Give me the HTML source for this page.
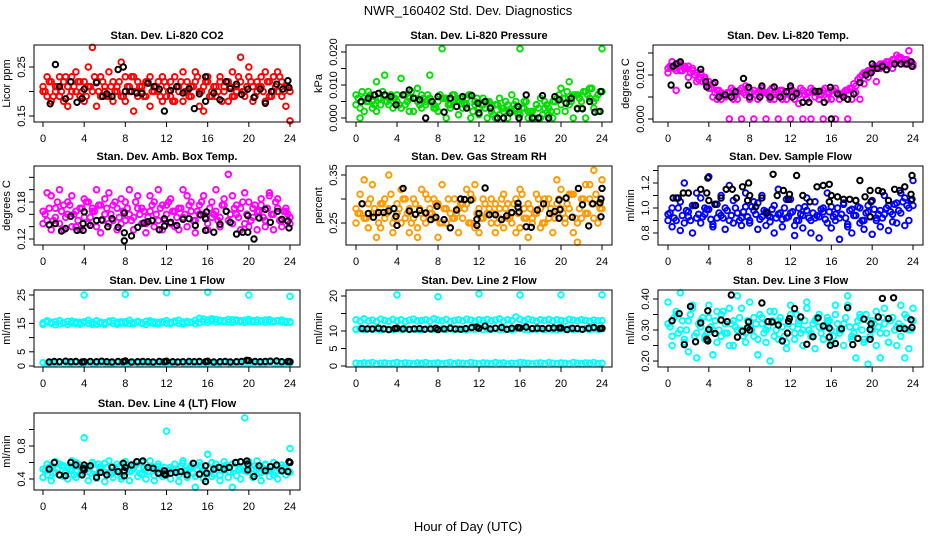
<!DOCTYPE html>
<html><head><meta charset="utf-8"><title>NWR_160402 Std. Dev. Diagnostics</title>
<style>
html,body{margin:0;padding:0;background:#fff;}
svg{display:block;font-family:"Liberation Sans",Arial,sans-serif;}
</style></head>
<body>
<svg id="chart" width="936" height="540" viewBox="0 0 936 540" xmlns="http://www.w3.org/2000/svg">
<rect x="0" y="0" width="936" height="540" fill="#fff"/>
<text x="468" y="15" text-anchor="middle" font-size="13">NWR_160402 Std. Dev. Diagnostics</text>
<text x="468" y="531" text-anchor="middle" font-size="13">Hour of Day (UTC)</text>
</svg>
<script>
const hours = [0,0.4,0.8,1.2,1.6,2,2.4,2.8,3.2,3.6,4,4.4,4.8,5.2,5.6,6,6.4,6.8,7.2,7.6,8,8.4,8.8,9.2,9.6,10,10.4,10.8,11.2,11.6,12,12.4,12.8,13.2,13.6,14,14.4,14.8,15.2,15.6,16,16.4,16.8,17.2,17.6,18,18.4,18.8,19.2,19.6,20,20.4,20.8,21.2,21.6,22,22.4,22.8,23.2,23.6,24];
const hoursHalf = [0.2,0.6,1,1.4,1.8,2.2,2.6,3,3.4,3.8,4.2,4.6,5,5.4,5.8,6.2,6.6,7,7.4,7.8,8.2,8.6,9,9.4,9.8,10.2,10.6,11,11.4,11.8,12.2,12.6,13,13.4,13.8,14.2,14.6,15,15.4,15.8,16.2,16.6,17,17.4,17.8,18.2,18.6,19,19.4,19.8,20.2,20.6,21,21.4,21.8,22.2,22.6,23,23.4,23.8];
const xTicks = [0,4,8,12,16,20,24];
const xTickLabels = ['0','4','8','12','16','20','24'];

const co2A = [0.21,0.19,0.22,0.20,0.23,0.18,0.21,0.20,0.24,0.19,0.22,0.25,0.20,0.17,0.23,0.21,0.19,0.22,0.20,0.26,0.18,0.21,0.23,0.19,0.20,0.22,0.17,0.21,0.20,0.23,0.19,0.22,0.18,0.21,0.24,0.20,0.19,0.22,0.17,0.21,0.23,0.20,0.19,0.22,0.21,0.18,0.24,0.20,0.22,0.19,0.25,0.21,0.20,0.23,0.18,0.22,0.20,0.24,0.19,0.21,0.20];
const co2B = [0.20,0.23,0.18,0.21,0.19,0.22,0.17,0.23,0.20,0.22,0.18,0.21,0.29,0.22,0.19,0.20,0.24,0.18,0.21,0.19,0.23,0.20,0.16,0.22,0.21,0.19,0.23,0.20,0.22,0.18,0.21,0.19,0.23,0.20,0.18,0.22,0.21,0.24,0.20,0.16,0.22,0.19,0.21,0.23,0.20,0.22,0.19,0.21,0.27,0.20,0.23,0.18,0.22,0.21,0.24,0.19,0.23,0.20,0.22,0.17,0.14];
const co2C = [0.20,0.22,0.19,0.21,0.20,0.23,0.19,0.21,0.22,0.20,0.19,0.21,0.23,0.20,0.22,0.19,0.21,0.20,0.22,0.19,0.21,0.23,0.20,0.21,0.19,0.22,0.20,0.21,0.19,0.22,0.20,0.18,0.21,0.22,0.20,0.19,0.21,0.23,0.20,0.22,0.19,0.21,0.20,0.18,0.22,0.21,0.19,0.23,0.20,0.21,0.22,0.19,0.21,0.20,0.22,0.19,0.21,0.23,0.20,0.21];
const co2BlackH = [0.7,1.2,1.6,2.2,2.7,3.3,3.8,4.0,5.2,5.8,6.2,6.7,7.3,7.8,8.0,8.6,9.1,9.6,10.2,10.8,11.3,11.8,12.4,13.0,13.6,14.2,14.7,15.2,15.8,15.8,16.6,17.2,17.8,18.2,18.8,19.3,19.9,20.5,21.1,21.6,22.2,22.7,23.3,23.8,23.9];
const co2BlackV = [0.175,0.255,0.21,0.185,0.22,0.178,0.186,0.205,0.218,0.19,0.195,0.19,0.245,0.25,0.2,0.2,0.197,0.196,0.217,0.21,0.205,0.16,0.202,0.21,0.197,0.206,0.165,0.195,0.23,0.18,0.197,0.183,0.22,0.206,0.215,0.194,0.205,0.188,0.205,0.176,0.2,0.215,0.205,0.222,0.208];

const presA = [0.007,0.003,0.006,0.008,0.005,0.002,0.006,0.007,0.004,0.006,0.005,0.003,0.007,0.006,0.002,0.005,0.007,0.004,0.006,0.003,0.005,0.021,0.006,0.004,0.007,0.005,0.003,0.006,0.007,0.004,0.001,0.006,0.005,0.003,0.000,0.006,0.002,0.004,0.007,0.003,0.021,0.005,0.002,0.000,0.004,0.006,0.003,0.001,0.005,0.002,0.009,0.006,0.004,0.007,0.003,0.005,0.008,0.006,0.003,0.007,0.021];
const presB = [0.004,0.000,0.002,0.005,0.003,0.011,0.004,0.013,0.006,0.003,0.007,0.012,0.004,0.002,0.006,0.009,0.003,0.005,0.013,0.004,0.002,0.006,0.000,0.003,0.005,0.001,0.006,0.004,0.000,0.005,0.003,0.004,0.000,0.002,0.004,0.001,0.003,0.000,0.002,0.005,0.001,0.003,0.000,0.002,0.004,0.000,0.005,0.003,0.000,0.006,0.004,0.002,0.011,0.000,0.007,0.003,0.000,0.009,0.005,0.002,0.008];
const presC = [0.006,0.008,0.005,0.007,0.004,0.006,0.008,0.005,0.007,0.006,0.004,0.007,0.005,0.008,0.006,0.004,0.006,0.007,0.005,0.003,0.007,0.006,0.004,0.007,0.005,0.006,0.004,0.007,0.002,0.006,0.004,0.003,0.005,0.001,0.004,0.003,0.005,0.002,0.004,0.001,0.003,0.005,0.002,0.000,0.003,0.001,0.004,0.002,0.005,0.007,0.006,0.008,0.005,0.007,0.006,0.008,0.007,0.009,0.006,0.008];
const presBlackH = [0.5,1.2,1.8,2.2,2.8,3.4,3.9,4.6,5.2,5.6,6.2,6.8,7.4,8.0,8.6,9.2,9.8,10.4,10.8,11.3,11.9,12.0,12.6,13.1,13.8,14.4,15.0,15.8,15.9,16.6,17.2,17.8,18.2,18.8,19.4,19.8,20.5,21.0,21.6,22.1,22.8,23.3,23.8,23.9];
const presBlackV = [0.005,0.006,0.007,0.0075,0.007,0.0065,0.004,0.007,0.0085,0.006,0.0055,0,0.005,0.0065,0.0018,0.006,0.0035,0.0065,0.003,0.0068,0.0045,0.0015,0.005,0.003,0,0,0.0015,0.0035,0,0.007,0,0,0.0068,0,0.0065,0.0055,0.0045,0.006,0.0028,0.0028,0.005,0.0018,0.002,0.008];

const tempA = [0.0115,0.012,0.011,0.0125,0.0115,0.012,0.011,0.0105,0.0095,0.009,0.0085,0.008,0.0065,0.006,0.0055,0.006,0.0065,0.006,0.007,0.0055,0.006,0.0065,0.006,0.007,0.006,0.0065,0.0055,0.006,0.0065,0.006,0.007,0.006,0.0055,0.0065,0.006,0.007,0.006,0.0055,0.0065,0.006,0.0065,0.007,0.0055,0.006,0.0065,0.007,0.0075,0.0095,0.0105,0.011,0.0115,0.012,0.0125,0.012,0.013,0.0135,0.013,0.014,0.0135,0.013,0.0125];
const tempB = [0.0105,0.013,0.0065,0.011,0.012,0.0095,0.0115,0.0085,0.0105,0.0095,0.007,0.005,0.0045,0.0045,0.005,0.0,0.0045,0.0045,0.0,0.0075,0.0045,0.0,0.0045,0.006,0.0,0.0045,0.0045,0.0,0.0045,0.0045,0.0,0.0045,0.0035,0.0,0.0045,0.0,0.005,0.0045,0.0,0.0045,0.0045,0.0,0.0045,0.0055,0.0,0.0045,0.006,0.0045,0.008,0.0095,0.011,0.0085,0.0115,0.0125,0.012,0.0115,0.0145,0.0135,0.0125,0.0155,0.012];
const tempC = [0.012,0.0115,0.0125,0.011,0.0115,0.0105,0.01,0.009,0.0085,0.0075,0.007,0.006,0.0065,0.0055,0.006,0.007,0.0055,0.0065,0.006,0.007,0.006,0.0055,0.0065,0.006,0.0055,0.007,0.006,0.0065,0.0055,0.006,0.0065,0.006,0.007,0.0055,0.006,0.0065,0.006,0.0055,0.007,0.006,0.0065,0.006,0.0055,0.0065,0.007,0.008,0.009,0.01,0.0105,0.011,0.012,0.0115,0.0125,0.013,0.0125,0.0135,0.014,0.013,0.0135,0.013];
const tempBlackH = [0.3,0.5,0.8,1.2,2.0,3.2,3.7,3.8,4.6,5.0,5.6,6.2,6.6,7.4,7.9,8.0,9.0,9.2,10.0,10.4,11.0,11.6,12.0,12.2,12.6,13.2,13.8,14.4,14.8,15.3,15.9,16.0,16.6,17.2,17.6,18.2,18.8,19.4,19.9,20.0,20.5,21.0,21.4,22.2,22.8,23.4,23.8,23.9];
const tempBlackV = [0.0077,0.012,0.0125,0.013,0.0077,0.0113,0.0085,0.0073,0.0083,0.005,0.0055,0.005,0.0062,0.0092,0.0072,0.005,0.005,0.0075,0.005,0.0073,0.005,0.0062,0.0075,0.005,0.0058,0.0038,0.0038,0.0063,0.0063,0.0038,0.0072,0,0.0057,0.005,0.0045,0.0057,0.0083,0.01,0.0105,0.0125,0.0115,0.012,0.0112,0.0125,0.0125,0.0125,0.013,0.012];

const ambA = [0.165,0.15,0.19,0.17,0.145,0.175,0.16,0.19,0.14,0.17,0.155,0.18,0.165,0.14,0.175,0.16,0.195,0.15,0.17,0.145,0.18,0.16,0.155,0.19,0.17,0.145,0.165,0.18,0.15,0.175,0.16,0.185,0.14,0.17,0.155,0.19,0.165,0.15,0.175,0.16,0.145,0.18,0.165,0.155,0.175,0.15,0.19,0.16,0.17,0.145,0.18,0.155,0.165,0.175,0.14,0.19,0.16,0.17,0.15,0.165,0.155];
const ambB = [0.145,0.195,0.135,0.155,0.2,0.135,0.18,0.14,0.165,0.135,0.185,0.145,0.17,0.2,0.13,0.185,0.145,0.175,0.135,0.185,0.15,0.2,0.135,0.17,0.145,0.13,0.19,0.14,0.2,0.135,0.175,0.145,0.165,0.135,0.2,0.14,0.18,0.13,0.16,0.19,0.135,0.155,0.2,0.14,0.185,0.225,0.145,0.175,0.135,0.195,0.14,0.17,0.135,0.185,0.15,0.195,0.135,0.185,0.14,0.17,0.145];
const ambC = [0.16,0.17,0.15,0.18,0.165,0.155,0.175,0.16,0.15,0.17,0.18,0.155,0.165,0.175,0.15,0.17,0.16,0.18,0.155,0.165,0.17,0.15,0.18,0.16,0.165,0.155,0.175,0.16,0.17,0.15,0.18,0.165,0.155,0.17,0.16,0.175,0.15,0.165,0.18,0.155,0.17,0.16,0.15,0.175,0.165,0.16,0.17,0.155,0.18,0.16,0.15,0.175,0.165,0.155,0.17,0.16,0.18,0.15,0.165,0.16];
const ambBlackH = [0.6,1.2,1.8,2.2,2.7,3.3,3.9,4.0,3.9,4.6,5.2,5.7,6.3,6.7,7.3,7.9,7.9,7.9,8.6,9.2,9.8,10.2,10.6,11.3,11.8,11.8,12.4,13.0,13.6,14.2,14.8,15.3,15.8,15.8,15.9,16.6,17.2,17.8,18.2,18.8,19.4,19.9,19.9,20.5,21.0,21.6,22.1,22.8,23.2,23.8,23.9];
const ambBlackV = [0.143,0.145,0.133,0.137,0.157,0.134,0.145,0.164,0.134,0.142,0.15,0.151,0.14,0.153,0.139,0.162,0.13,0.117,0.125,0.139,0.146,0.148,0.15,0.135,0.153,0.141,0.147,0.142,0.152,0.153,0.142,0.159,0.134,0.153,0.164,0.131,0.144,0.165,0.147,0.128,0.131,0.131,0.158,0.12,0.154,0.168,0.147,0.165,0.152,0.149,0.138];

const rhA = [0.28,0.31,0.26,0.29,0.33,0.27,0.24,0.30,0.28,0.25,0.29,0.32,0.26,0.28,0.30,0.24,0.27,0.31,0.28,0.26,0.29,0.33,0.25,0.27,0.30,0.28,0.26,0.29,0.31,0.24,0.28,0.30,0.27,0.25,0.29,0.28,0.31,0.26,0.27,0.30,0.24,0.28,0.29,0.26,0.31,0.28,0.25,0.30,0.27,0.29,0.32,0.26,0.28,0.31,0.25,0.30,0.27,0.33,0.26,0.29,0.28];
const rhB = [0.25,0.27,0.34,0.24,0.27,0.22,0.29,0.26,0.35,0.23,0.27,0.25,0.30,0.23,0.26,0.22,0.32,0.25,0.27,0.30,0.22,0.25,0.28,0.24,0.26,0.23,0.29,0.32,0.25,0.33,0.23,0.26,0.27,0.30,0.23,0.26,0.24,0.29,0.25,0.23,0.32,0.26,0.22,0.25,0.27,0.24,0.30,0.26,0.23,0.34,0.28,0.25,0.31,0.23,0.21,0.26,0.33,0.30,0.36,0.25,0.34];
const rhC = [0.27,0.29,0.26,0.30,0.28,0.25,0.29,0.27,0.31,0.26,0.28,0.30,0.27,0.25,0.29,0.28,0.26,0.30,0.27,0.29,0.25,0.28,0.30,0.26,0.27,0.29,0.28,0.25,0.30,0.27,0.26,0.29,0.28,0.27,0.25,0.30,0.28,0.26,0.29,0.27,0.31,0.26,0.28,0.27,0.30,0.25,0.29,0.28,0.26,0.30,0.27,0.29,0.31,0.26,0.28,0.30,0.27,0.29,0.31,0.28];
const rhBlackH = [0.6,1.2,1.7,2.2,2.7,3.2,3.7,3.9,4.0,4.6,5.2,5.8,6.2,6.8,7.3,7.8,7.9,8.6,9.2,9.8,10.2,10.6,11.2,11.8,11.8,12.0,12.6,13.0,13.6,14.2,14.7,15.2,15.8,15.8,15.9,16.6,17.1,17.7,18.3,18.9,19.4,19.8,19.8,19.9,20.5,21.1,21.7,22.1,22.7,23.1,23.8,23.9,23.9,24.0];
const rhBlackV = [0.29,0.27,0.262,0.272,0.272,0.275,0.28,0.264,0.245,0.322,0.275,0.268,0.276,0.271,0.257,0.262,0.285,0.257,0.24,0.277,0.3,0.299,0.298,0.245,0.258,0.27,0.323,0.267,0.267,0.257,0.265,0.272,0.291,0.283,0.273,0.242,0.241,0.277,0.29,0.27,0.274,0.298,0.26,0.278,0.302,0.262,0.322,0.288,0.244,0.29,0.292,0.3,0.263,0.322];

const sfA = [0.95,1.0,0.9,1.05,0.88,0.97,1.02,0.92,1.08,0.95,0.99,0.87,1.03,0.94,1.0,0.9,1.06,0.96,0.92,1.01,0.88,0.98,1.04,0.93,0.97,0.89,1.02,0.95,0.91,1.07,0.96,0.86,1.0,0.94,0.98,0.9,1.05,0.93,0.97,0.88,1.01,0.95,0.92,1.03,0.87,0.99,0.94,1.0,0.9,0.97,1.06,0.92,0.98,0.95,1.02,0.89,1.04,0.96,1.08,1.0,1.02];
const sfB = [0.9,0.85,1.08,0.82,1.2,0.93,0.8,1.12,0.88,1.0,1.25,0.85,0.92,1.1,0.83,1.18,0.88,0.96,0.86,1.12,0.9,1.05,0.83,1.1,0.86,0.93,0.8,1.15,0.85,0.92,1.07,0.78,0.9,0.84,1.08,0.8,0.92,0.76,1.0,1.12,0.84,0.9,0.75,1.04,0.85,0.8,1.06,0.88,0.83,1.02,0.79,0.9,0.85,1.1,0.82,0.95,0.88,1.12,0.86,0.9,1.22];
const sfC = [0.96,0.92,1.0,0.94,0.98,0.9,1.02,0.95,0.93,0.99,0.91,1.03,0.96,0.92,0.98,0.94,1.0,0.9,0.97,0.93,1.01,0.95,0.91,0.98,0.94,0.99,0.92,0.96,1.0,0.93,0.97,0.9,0.95,1.01,0.92,0.96,0.94,0.99,0.91,0.97,0.93,1.0,0.95,0.92,0.98,0.94,1.01,0.9,0.96,0.93,0.99,0.95,0.92,1.0,0.97,1.03,0.98,1.05,1.02,1.06];
const sfBlackH = [0.5,1.0,1.5,2.0,2.7,3.2,3.8,3.9,4.0,4.6,5.2,5.7,6.3,6.7,7.3,7.8,7.9,8.0,8.6,9.2,9.7,10.3,10.7,11.3,11.8,11.9,12.6,13.2,13.9,14.6,15.2,15.8,15.8,16.0,16.6,17.2,17.8,18.4,18.8,19.3,19.8,19.8,19.9,20.6,21.0,21.6,22.2,22.7,23.2,23.8,23.9,23.9];
const sfBlackV = [1.08,1.08,1.12,1.12,1.02,1.15,1.12,1.24,1.06,1.03,1.08,1.15,1.15,1.08,1.17,1.06,1.2,1.1,1.01,1.08,0.96,1.27,1.1,1.14,1.07,1.11,1.26,1.1,1.05,1.17,1.18,1.19,1.05,1.1,1.09,1.07,1.07,1.06,1.22,1.09,1.14,0.93,1.05,1.14,1.13,1.06,1.15,1.14,1.17,1.11,1.07,1.26];

const l1A = [15.2,15.5,15.0,15.6,14.8,15.3,15.7,15.1,14.9,15.4,15.6,15.0,15.3,14.7,15.5,15.2,15.8,15.0,15.4,15.1,15.6,14.9,15.3,15.5,15.0,15.7,15.2,14.9,15.4,15.6,15.1,15.3,15.8,15.0,15.5,15.2,15.4,14.9,16.8,15.6,16.2,15.9,16.4,15.7,16.0,15.5,16.3,15.8,15.6,16.1,15.7,16.0,15.5,15.9,16.2,15.6,15.8,16.0,15.5,15.7,15.4];
const l1B = [14.6,15.9,15.4,14.5,16.0,15.1,14.6,15.8,15.5,14.7,15.2,16.1,14.6,15.9,15.0,14.6,15.5,16.0,14.7,15.6,15.0,16.1,14.8,15.7,15.2,14.6,15.9,15.5,14.8,15.2,16.0,14.9,15.4,16.1,14.8,15.7,15.3,16.1,15.2,16.5,15.3,16.6,15.5,16.1,15.6,16.4,15.4,16.2,15.9,15.3,16.4,15.5,16.2,15.8,15.4,16.3,15.5,15.9,16.2,15.3,15.6];
const l1C = [1.2,0.9,1.1,1.0,1.3,0.8,1.1,1.0,1.2,0.9,1.1,1.3,1.0,0.9,1.2,1.1,1.0,0.8,1.2,1.1,0.9,1.0,1.3,1.1,0.9,1.2,1.0,1.1,0.8,1.2,1.0,1.1,0.9,1.3,1.0,1.1,0.9,1.2,1.0,0.8,1.1,1.2,1.0,0.9,1.3,1.1,1.0,1.2,0.9,1.1,1.0,1.2,0.8,1.1,1.0,1.3,0.9,1.1,1.0,1.2,1.1];
const outlierHours = [4,8,12,16,20,24];
const l1Out = [25,25.2,25.8,26,25,24.5];
const lineBlackH = [0.6,1.1,1.6,2.2,2.7,3.2,3.8,4.0,4.6,5.2,5.7,6.2,6.7,7.3,7.8,8.0,8.6,9.2,9.7,10.2,10.7,11.3,11.8,12.0,12.6,13.1,13.6,14.2,14.7,15.2,15.8,16.0,16.6,17.2,17.7,18.2,18.8,19.3,19.8,20.0,20.6,21.1,21.6,22.1,22.7,23.2,23.8,24.0];
const l1BlackV = [1.4,1.6,1.5,1.7,1.5,1.6,1.4,1.5,1.6,1.5,1.7,1.5,1.4,1.6,1.5,1.8,1.4,1.5,1.6,1.5,1.4,1.6,1.5,1.7,1.5,1.4,1.5,1.6,1.5,1.6,1.5,1.7,1.4,1.5,1.6,1.4,1.5,1.6,2.0,1.9,1.6,1.5,1.6,1.7,1.8,1.5,1.6,1.5];

const l2A = [13.2,12.8,13.5,12.9,13.1,12.7,13.4,13.0,12.8,13.3,12.9,13.2,12.7,13.1,13.4,12.9,13.0,13.2,12.8,13.5,13.1,12.9,13.3,12.7,13.0,13.2,12.9,13.4,13.1,12.8,13.2,13.0,13.3,12.9,13.1,13.5,12.8,13.2,13.0,14.0,13.3,12.9,13.4,13.1,12.8,13.2,13.0,13.3,12.9,13.2,13.0,12.8,13.3,13.1,12.9,13.2,13.0,12.8,13.1,12.9,13.0];
const l2B = [10.5,10.6,10.4,10.7,10.5,10.6,10.3,10.7,10.5,10.4,10.6,10.5,10.7,10.4,10.6,10.5,10.3,10.6,10.7,10.5,10.4,10.6,10.5,10.7,10.4,10.6,10.5,10.3,10.6,10.5,10.7,10.4,10.6,10.5,10.7,10.4,10.6,10.5,10.3,10.6,10.7,10.5,10.4,10.6,10.5,10.7,10.4,10.6,10.5,10.3,10.6,10.5,10.7,10.4,10.6,10.5,10.7,10.4,10.6,10.5,10.6];
const l2C = [0.8,0.7,0.9,0.8,1.0,0.6,0.8,0.9,0.7,0.8,1.0,0.7,0.9,0.8,0.6,0.9,0.8,1.0,0.7,0.8,0.9,0.6,0.8,1.0,0.7,0.9,0.8,0.7,1.0,0.8,0.6,0.9,0.8,0.7,1.0,0.8,0.9,0.6,0.8,0.7,1.0,0.9,0.8,0.6,0.8,0.9,0.7,1.0,0.8,0.7,0.9,0.8,0.6,1.0,0.8,0.7,0.9,0.8,1.0,0.7,0.8];
const l2Out = [20.3,19.8,20.6,20.3,20.3,20.3];
const l2BlackV = [10.7,10.6,10.6,10.8,10.6,10.4,10.7,10.8,10.6,10.5,10.6,10.7,10.5,10.6,10.8,10.4,10.6,10.8,10.6,10.5,10.7,11.0,11.1,10.8,11.4,10.6,10.8,11.0,10.5,10.8,11.0,10.9,11.1,10.7,10.8,10.7,10.8,10.9,10.9,10.9,10.4,10.8,10.7,10.5,10.8,11.0,10.7,10.8];

const l3A = [0.32,0.28,0.35,0.30,0.26,0.33,0.38,0.29,0.31,0.27,0.34,0.30,0.36,0.28,0.32,0.25,0.33,0.30,0.37,0.29,0.31,0.34,0.27,0.32,0.30,0.36,0.28,0.33,0.31,0.26,0.35,0.29,0.32,0.30,0.37,0.28,0.33,0.31,0.27,0.34,0.30,0.35,0.29,0.32,0.38,0.28,0.31,0.34,0.27,0.33,0.30,0.36,0.29,0.32,0.26,0.34,0.31,0.28,0.35,0.30,0.33];
const l3B = [0.39,0.25,0.36,0.42,0.27,0.23,0.37,0.21,0.33,0.28,0.38,0.22,0.26,0.35,0.29,0.37,0.25,0.41,0.3,0.26,0.39,0.28,0.22,0.34,0.26,0.2,0.36,0.27,0.31,0.24,0.38,0.27,0.33,0.25,0.39,0.29,0.24,0.35,0.27,0.33,0.26,0.38,0.3,0.25,0.41,0.27,0.21,0.35,0.26,0.19,0.33,0.25,0.21,0.37,0.26,0.34,0.25,0.38,0.21,0.24,0.37];
const l3C = [0.31,0.34,0.29,0.33,0.30,0.35,0.28,0.32,0.34,0.29,0.31,0.33,0.30,0.36,0.29,0.32,0.31,0.34,0.28,0.33,0.30,0.32,0.35,0.29,0.31,0.33,0.30,0.34,0.28,0.32,0.31,0.35,0.29,0.33,0.30,0.32,0.34,0.29,0.31,0.33,0.28,0.32,0.30,0.34,0.31,0.29,0.33,0.30,0.35,0.28,0.32,0.31,0.34,0.29,0.33,0.30,0.32,0.31,0.34,0.30];
const l3BlackH = [0.4,1.1,1.6,2.2,2.7,3.2,3.8,3.9,3.9,4.0,4.6,5.2,5.8,6.2,6.8,7.3,7.8,7.9,8.0,9.2,9.8,10.2,10.8,11.2,11.7,11.8,11.9,12.4,13.0,13.6,14.2,14.7,15.2,15.8,15.8,15.9,16.4,17.0,17.6,18.1,18.6,19.2,19.8,19.8,19.9,20.6,21.0,21.6,22.1,22.7,23.2,23.8,23.9];
const l3BlackV = [0.33,0.353,0.253,0.376,0.262,0.323,0.27,0.265,0.362,0.302,0.289,0.332,0.327,0.413,0.277,0.296,0.307,0.326,0.3,0.387,0.327,0.326,0.316,0.265,0.29,0.328,0.337,0.369,0.342,0.254,0.278,0.339,0.313,0.306,0.277,0.251,0.256,0.304,0.372,0.253,0.273,0.335,0.302,0.27,0.32,0.342,0.402,0.337,0.404,0.305,0.304,0.333,0.308];

const l4A = [0.52,0.45,0.55,0.48,0.58,0.43,0.53,0.5,0.6,0.46,0.54,0.49,0.57,0.44,0.52,0.59,0.47,0.55,0.5,0.43,0.56,0.49,0.53,0.61,0.46,0.51,0.55,0.44,0.58,0.5,0.47,0.54,0.52,0.45,0.59,0.49,0.53,0.43,0.56,0.5,0.47,0.6,0.52,0.45,0.55,0.49,0.58,0.44,0.53,0.5,0.61,0.46,0.54,0.48,0.57,0.51,0.45,0.55,0.5,0.53,0.48];
const l4B = [0.42,0.58,0.38,0.61,0.45,0.56,0.4,0.62,0.42,0.57,0.9,0.38,0.6,0.41,0.55,0.37,0.62,0.42,0.58,0.4,0.61,0.38,0.56,0.43,0.6,0.4,0.62,0.38,0.55,0.43,0.98,0.4,0.58,0.37,0.62,0.42,0.56,0.3,0.6,0.4,0.7,0.43,0.58,0.38,0.61,0.42,0.3,0.6,0.4,1.14,0.56,0.42,0.62,0.38,0.58,0.43,0.6,0.4,0.57,0.45,0.77];
const l4C = [0.5,0.54,0.47,0.52,0.56,0.48,0.51,0.45,0.55,0.5,0.53,0.47,0.52,0.58,0.49,0.54,0.46,0.51,0.55,0.48,0.52,0.5,0.57,0.47,0.53,0.49,0.55,0.51,0.46,0.54,0.5,0.52,0.48,0.56,0.5,0.53,0.47,0.51,0.55,0.49,0.52,0.46,0.54,0.5,0.57,0.48,0.53,0.51,0.55,0.49,0.52,0.56,0.47,0.53,0.5,0.55,0.48,0.52,0.54,0.5];
const l4BlackH = [0.6,1.1,1.6,2.2,2.7,3.2,3.8,3.9,4.0,4.0,4.6,5.2,5.6,6.2,6.7,7.3,7.8,7.9,7.9,8.0,8.6,9.1,9.7,10.2,10.7,11.2,11.8,11.8,11.9,12.4,12.9,13.4,14.0,14.6,15.2,15.8,15.8,15.9,16.6,17.1,17.6,18.1,18.7,19.2,19.8,19.9,19.9,20.5,21.0,21.6,22.1,22.7,23.2,23.8,23.9,24.0];
const l4BlackV = [0.52,0.6,0.45,0.44,0.6,0.57,0.45,0.53,0.51,0.57,0.56,0.42,0.48,0.45,0.54,0.49,0.59,0.44,0.5,0.54,0.57,0.61,0.62,0.54,0.53,0.47,0.5,0.46,0.45,0.47,0.48,0.49,0.45,0.59,0.46,0.56,0.37,0.47,0.52,0.54,0.52,0.54,0.6,0.61,0.62,0.58,0.51,0.43,0.56,0.5,0.55,0.57,0.5,0.49,0.61,0.6];

const RED='#ff0000', GRN='#00dd00', MAG='#ff00ff', BLU='#0000ff', ORG='#ff9900', CYA='#00ffff';

const panels = [
 {id:'co2', title:'Stan. Dev. Li-820 CO2', ylab:'Licor ppm', box:[34,45,300,122], xr:[43,290], yr:[0.15,116,0.25,67],
  yt:[0.15,0.20,0.25], yl:['0.15','','0.25'], series:[[hours,co2A,RED],[hours,co2B,RED],[hoursHalf,co2C,RED]], black:[co2BlackH,co2BlackV]},
 {id:'pressure', title:'Stan. Dev. Li-820 Pressure', ylab:'kPa', box:[346,45,612,122], xr:[356,602], yr:[0,118,0.02,52],
  yt:[0,0.005,0.01,0.015,0.02], yl:['0.000','','0.010','','0.020'], series:[[hours,presA,GRN],[hours,presB,GRN],[hoursHalf,presC,GRN]], black:[presBlackH,presBlackV]},
 {id:'li820-temp', title:'Stan. Dev. Li-820 Temp.', ylab:'degrees C', box:[653,45,923,122], xr:[668,913], yr:[0,119,0.01,75],
  yt:[0,0.005,0.01,0.015], yl:['0.000','','0.010',''], series:[[hours,tempA,MAG],[hours,tempB,MAG],[hoursHalf,tempC,MAG]], black:[tempBlackH,tempBlackV]},
 {id:'amb-box-temp', title:'Stan. Dev. Amb. Box Temp.', ylab:'degrees C', box:[34,166,300,245], xr:[43,290], yr:[0.12,239,0.18,202],
  yt:[0.12,0.14,0.16,0.18,0.20,0.22], yl:['0.12','','','0.18','',''], series:[[hours,ambA,MAG],[hours,ambB,MAG],[hoursHalf,ambC,MAG]], black:[ambBlackH,ambBlackV]},
 {id:'gas-stream-rh', title:'Stan. Dev. Gas Stream RH', ylab:'percent', box:[346,166,612,245], xr:[356,602], yr:[0.25,223,0.35,175],
  yt:[0.25,0.30,0.35], yl:['0.25','','0.35'], series:[[hours,rhA,ORG],[hours,rhB,ORG],[hoursHalf,rhC,ORG]], black:[rhBlackH,rhBlackV]},
 {id:'sample-flow', title:'Stan. Dev. Sample Flow', ylab:'ml/min', box:[658,166,923,245], xr:[668,913], yr:[0.8,233,1.2,183],
  yt:[0.8,0.9,1.0,1.1,1.2,1.3], yl:['0.8','','1.0','','1.2',''], series:[[hours,sfA,BLU],[hours,sfB,BLU],[hoursHalf,sfC,BLU]], black:[sfBlackH,sfBlackV]},
 {id:'line1-flow', title:'Stan. Dev. Line 1 Flow', ylab:'ml/min', box:[34,290,300,367], xr:[43,290], yr:[0,366,25,295],
  yt:[0,5,10,15,20,25], yl:['0','5','','15','','25'], series:[[hours,l1A,CYA],[hours,l1B,CYA],[hours,l1C,CYA],[outlierHours,l1Out,CYA]], black:[lineBlackH,l1BlackV]},
 {id:'line2-flow', title:'Stan. Dev. Line 2 Flow', ylab:'ml/min', box:[346,290,612,367], xr:[356,602], yr:[0,366,20,296],
  yt:[0,5,10,15,20], yl:['0','5','10','','20'], series:[[hours,l2A,CYA],[hours,l2B,CYA],[hours,l2C,CYA],[outlierHours,l2Out,CYA]], black:[lineBlackH,l2BlackV]},
 {id:'line3-flow', title:'Stan. Dev. Line 3 Flow', ylab:'ml/min', box:[658,290,923,367], xr:[668,913], yr:[0.2,361,0.4,299],
  yt:[0.2,0.25,0.3,0.35,0.4], yl:['0.20','','0.30','','0.40'], series:[[hours,l3A,CYA],[hours,l3B,CYA],[hoursHalf,l3C,CYA]], black:[l3BlackH,l3BlackV]},
 {id:'line4-flow', title:'Stan. Dev. Line 4 (LT) Flow', ylab:'ml/min', box:[34,413,300,490], xr:[43,290], yr:[0.4,479,0.8,446],
  yt:[0.4,0.6,0.8,1.0], yl:['0.4','','0.8',''], series:[[hours,l4A,CYA],[hours,l4B,CYA],[hoursHalf,l4C,CYA]], black:[l4BlackH,l4BlackV]}
];

const NS='http://www.w3.org/2000/svg';
const svg=document.getElementById('chart');
function mk(tag, attrs, parent){const e=document.createElementNS(NS,tag);for(const k in attrs)e.setAttribute(k,attrs[k]);(parent||svg).appendChild(e);return e;}

panels.forEach(p=>{
  const [L,T,R,B]=p.box;
  const sx=h=>p.xr[0]+h/24*(p.xr[1]-p.xr[0]);
  const sy=v=>p.yr[1]-(v-p.yr[0])/(p.yr[2]-p.yr[0])*(p.yr[1]-p.yr[3]);
  const g=mk('g',{});
  
  
  const cp=mk('clipPath',{id:'clip-'+p.id},g);
  mk('rect',{x:L-3,y:T-3,width:R-L+6,height:B-T+6},cp);
  const t=mk('text',{x:(L+R)/2,y:T-6,'text-anchor':'middle','font-size':'11','font-weight':'bold'},g);
  t.textContent=p.title;
  
  
  const pts=mk('g',{'clip-path':'url(#clip-'+p.id+')',fill:'none'},g);
  
  
  p.series.forEach(s=>{
    const hs=s[0], vs=s[1];
    const n=Math.min(hs.length, vs.length);
    for(let i=0;i<n;i++){
      const c=mk('circle',{cx:sx(hs[i]).toFixed(1),cy:sy(vs[i]).toFixed(1),r:2.8,stroke:s[2],'stroke-width':1.9},pts);
      
      
    }
  });
  const bh=p.black[0], bv=p.black[1];
  for(let i=0;i<bv.length;i++){
    const c=mk('circle',{cx:sx(bh[i]).toFixed(1),cy:sy(bv[i]).toFixed(1),r:2.7,stroke:'#000','stroke-width':2},pts);
    
    
  }
  const box=mk('rect',{x:L,y:T,width:R-L,height:B-T,fill:'none',stroke:'#000','stroke-width':1},g);
  
  
  const xa=mk('g',{},g);
  
  
  mk('line',{x1:sx(0),x2:sx(24),y1:B,y2:B,stroke:'#000'},xa);
  xTicks.forEach((h,i)=>{
    mk('line',{x1:sx(h),x2:sx(h),y1:B,y2:B+5,stroke:'#000'},xa);
    const tl=mk('text',{x:sx(h),y:B+20,'text-anchor':'middle','font-size':'11'},xa);
    tl.textContent=xTickLabels[i];
  });
  const ya=mk('g',{},g);
  
  
  p.yt.forEach((v,i)=>{
    const y=sy(v);
    mk('line',{x1:L-5,x2:L,y1:y,y2:y,stroke:'#000'},ya);
    if(p.yl[i]){
      const tl=mk('text',{x:L-9,y:y,'text-anchor':'middle','font-size':'11',transform:'rotate(-90 '+(L-9)+' '+y+')'},ya);
      tl.textContent=p.yl[i];
    }
  });
  const yy=(T+B)/2;
  const yl=mk('text',{x:L-24,y:yy,'text-anchor':'middle','font-size':'11',transform:'rotate(-90 '+(L-24)+' '+yy+')'},g);
  yl.textContent=p.ylab;
  
  
});
</script>
</body></html>
